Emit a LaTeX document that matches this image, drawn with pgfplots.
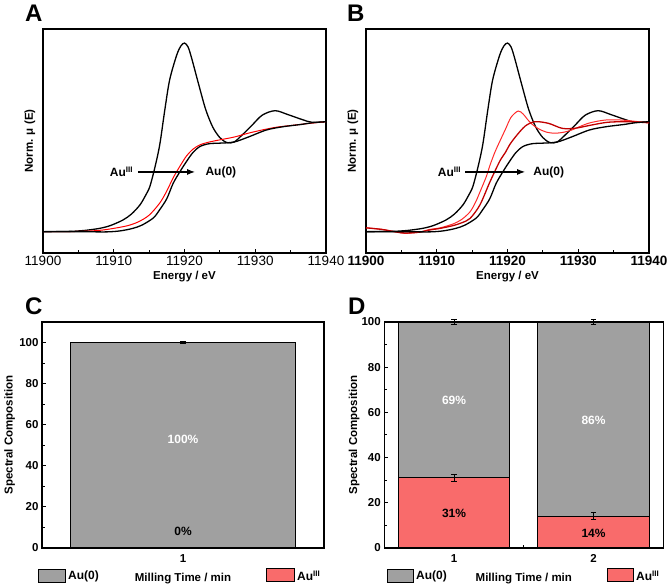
\documentclass[border=0pt]{standalone}
\usepackage{fontspec}
\setmainfont{Liberation Sans}
\usepackage{pgfplots}
\usepackage{pgfplotstable}
\pgfplotsset{compat=1.18}
\usetikzlibrary{arrows.meta}
\definecolor{barGray}{HTML}{A0A0A0}
\definecolor{barRed}{HTML}{F96B6B}
\definecolor{darkRed}{HTML}{C00000}
\definecolor{brightRed}{HTML}{FF2A2A}
\newcommand\fs[1]{\fontsize{#1}{#1}\selectfont}

% Au(III) reference
\pgfplotstableread{
E mu
11900 0
11902 0.001
11904 0.003
11906 0.012
11908 0.03
11909.5 0.055
11911.3 0.106
11912.5 0.16
11913.7 0.243
11914.5 0.33
11915.1 0.41
11915.8 0.58
11916.5 0.79
11917.2 1.10
11917.9 1.38
11918.9 1.606
11919.5 1.69
11920 1.715
11920.5 1.68
11921 1.58
11922 1.34
11923 1.11
11924 0.95
11925 0.855
11926 0.81
11927 0.815
11928 0.87
11929.5 0.965
11931 1.06
11932.8 1.10
11934.6 1.065
11936.6 1.02
11938 0.995
11940 1.0
}\refAuIII

% Au(0) foil
\pgfplotstableread{
E mu
11900 0
11905 0
11909 -0.002
11911 0.008
11912.7 0.03
11914 0.06
11915.6 0.125
11916.5 0.2
11917.5 0.3
11918.4 0.44
11919.4 0.55
11920.3 0.64
11921.2 0.72
11922.2 0.775
11923.5 0.80
11925 0.805
11927 0.815
11929 0.86
11931.6 0.925
11934 0.955
11936.5 0.975
11938 0.99
11940 1.0
}\foil

% sample, panel A
\pgfplotstableread{
E mu
11900 0
11905 0.002
11908 0.012
11910 0.03
11912 0.055
11913.5 0.09
11915 0.15
11916.5 0.26
11917.5 0.37
11918.4 0.49
11919.4 0.6
11920.3 0.69
11921.2 0.75
11922.2 0.79
11923.5 0.815
11925 0.835
11927 0.86
11929 0.895
11931 0.925
11933 0.95
11935 0.965
11937 0.98
11940 1.0
}\sampleA

% sample 1 min, panel B
\pgfplotstableread{
E mu
11900 0.035
11902.3 0.02
11904 0.0
11905.5 -0.015
11907.5 -0.005
11909 0.02
11910.5 0.035
11912.3 0.07
11913.5 0.11
11914.7 0.18
11915.5 0.27
11916.1 0.36
11917 0.5
11917.5 0.6
11918.2 0.72
11918.9 0.82
11919.7 0.93
11920.5 1.04
11921.5 1.097
11922.2 1.07
11922.9 1.015
11923.6 0.97
11924.4 0.935
11925.5 0.905
11926.7 0.895
11928 0.905
11929.1 0.925
11931.4 0.985
11933.8 1.015
11936.1 1.015
11938.5 1.0
11940 0.99
}\sampleBone

% sample 2 min, panel B
\pgfplotstableread{
E mu
11900 0.035
11902.3 0.02
11904 0.0
11905.5 -0.012
11907.5 -0.005
11909 0.015
11910.5 0.03
11912.3 0.055
11913.5 0.08
11914.7 0.12
11916.1 0.243
11917.5 0.45
11918.9 0.64
11919.7 0.72
11920.3 0.79
11921.1 0.86
11922.5 0.96
11923.9 1.0
11925.8 0.985
11927.7 0.94
11929.5 0.94
11931.9 0.97
11934.2 0.995
11937 1.0
11940 0.99
}\sampleBtwo

\begin{document}
\begin{tikzpicture}
\useasboundingbox (0pt,0pt) rectangle (671pt,588pt);
\pgfplotsset{
  xanes/.style={
    anchor=south west, scale only axis, width=283pt, height=224pt,
    xmin=11900, xmax=11940, ymin=-0.194, ymax=1.843,
    xtick={11900,11910,11920,11930,11940},
    minor xtick={11905,11915,11925,11935},
    scaled x ticks=false,
    ytick=\empty, xtick pos=left, tick align=inside,
    major tick length=4pt, minor tick length=2.5pt,
    axis line style={line width=1.2pt}, tick style={black, line width=1pt},
    /pgf/number format/1000 sep={},
    /pgf/number format/assume math mode=true,
    xlabel={Energy / eV}, ylabel={Norm. μ (E)},
    label style={font=\bfseries\fs{11.5}},
    xlabel style={at={(axis description cs:0.5,-0.103)}, anchor=center},
    ylabel style={at={(axis description cs:-0.046,0.5)}, anchor=center},
    clip=false,
  },
  bars/.style={
    anchor=south west, scale only axis, height=226pt, ymin=0,
    ytick={0,20,40,60,80,100}, minor ytick={10,30,50,70,90},
    tick align=inside, xtick pos=left, ytick pos=left,
    major tick length=4pt, minor tick length=2.5pt,
    axis line style={line width=1.2pt}, tick style={black, line width=1pt},
    ticklabel style={font=\bfseries\fs{11.5}},
    xticklabel style={yshift=-3pt},
    /pgf/number format/assume math mode=true,
    xlabel={Milling Time / min}, ylabel={Spectral Composition},
    label style={font=\bfseries\fs{11.5}},
    xlabel style={at={(axis description cs:0.5,-0.134)}, anchor=center},
    clip=false,
  },
  errstyle/.style={error bars/.cd, y dir=both, y explicit,
    error bar style={line width=1pt, black},
    error mark options={rotate=90, black, line width=1pt, mark size=2.7pt}},
}

% ---------- A ----------
\begin{axis}[xanes, at={(43pt,335pt)}, xticklabel style={font=\fs{13.5}}]
\addplot[black, line width=1.3pt, smooth] table[x=E,y=mu] {\refAuIII};
\addplot[red, line width=1.0pt, smooth] table[x=E,y=mu] {\sampleA};
\addplot[black, line width=1.3pt, smooth] table[x=E,y=mu] {\foil};
\draw[line width=1.2pt, -{Latex[length=8pt,width=6pt]}] (axis cs:11913.4,0.543) -- (axis cs:11921.5,0.543);
\node[anchor=east, font=\bfseries\fs{12}, inner sep=1pt] at (axis cs:11912.9,0.543) {Au\textsuperscript{III}};
\node[anchor=west, font=\bfseries\fs{12}, inner sep=1pt] at (axis cs:11922.8,0.543) {Au(0)};
\end{axis}

% ---------- B ----------
\begin{axis}[xanes, at={(366pt,335pt)}, xticklabel style={font=\bfseries\fs{13.5}}]
\addplot[black, line width=1.3pt, smooth] table[x=E,y=mu] {\refAuIII};
\addplot[brightRed, line width=1.0pt, smooth] table[x=E,y=mu] {\sampleBone};
\addplot[darkRed, line width=1.3pt, smooth] table[x=E,y=mu] {\sampleBtwo};
\addplot[black, line width=1.3pt, smooth] table[x=E,y=mu] {\foil};
\draw[line width=1.2pt, -{Latex[length=8pt,width=6pt]}] (axis cs:11914.0,0.543) -- (axis cs:11922.5,0.543);
\node[anchor=east, font=\bfseries\fs{12}, inner sep=1pt] at (axis cs:11913.6,0.543) {Au\textsuperscript{III}};
\node[anchor=west, font=\bfseries\fs{12}, inner sep=1pt] at (axis cs:11923.5,0.543) {Au(0)};
\end{axis}

% ---------- C ----------
\begin{axis}[bars, at={(42pt,40pt)}, width=282pt, xmin=0.5, xmax=1.5, ymax=110,
  xtick={1}, ylabel style={at={(axis description cs:-0.115,0.5)}, anchor=center}]
\addplot[ybar, bar width=0.8, bar shift=0pt, fill=barGray, draw=black, line width=1.1pt, errstyle]
  coordinates {(1,100) +- (0,0.4)};
\addplot[ybar, bar width=0.8, bar shift=0pt, fill=barRed, draw=black, line width=1.1pt, errstyle]
  coordinates {(1,0) +- (0,0.4)};
\node[font=\bfseries\fs{12}, text=white] at (axis cs:1,52.9) {100\%};
\node[font=\bfseries\fs{12}] at (axis cs:1,8.1) {0\%};
\end{axis}

% ---------- D ----------
\begin{axis}[bars, at={(384.3pt,40pt)}, width=279pt, xmin=0.5, xmax=2.5, ymax=100,
  xtick={1,2}, minor xtick={1.5}, ylabel style={at={(axis description cs:-0.108,0.5)}, anchor=center}]
\addplot[ybar, bar width=0.8, bar shift=0pt, fill=barGray, draw=black, line width=1.1pt, errstyle]
  coordinates {(1,100) +- (0,1.3) (2,100) +- (0,1.2)};
\addplot[ybar, bar width=0.8, bar shift=0pt, fill=barRed, draw=black, line width=1.1pt, errstyle]
  coordinates {(1,31) +- (0,1.6) (2,14) +- (0,1.5)};
\node[font=\bfseries\fs{12}, text=white] at (axis cs:1,65.2) {69\%};
\node[font=\bfseries\fs{12}, text=white] at (axis cs:2,56.5) {86\%};
\node[font=\bfseries\fs{12}] at (axis cs:1,15.2) {31\%};
\node[font=\bfseries\fs{12}] at (axis cs:2,6.3) {14\%};
\end{axis}

% ---------- legends ----------
\filldraw[fill=barGray, draw=black, line width=1pt] (38.3pt,5.5pt) rectangle (65.7pt,18pt);
\node[anchor=west, font=\bfseries\fs{12}, inner sep=1pt] at (67pt,12pt) {Au(0)};
\filldraw[fill=barRed, draw=black, line width=1pt] (266.7pt,6.5pt) rectangle (294pt,19pt);
\node[anchor=base west, font=\bfseries\fs{12}, inner sep=1pt] at (296pt,7pt) {Au\textsuperscript{III}};

\filldraw[fill=barGray, draw=black, line width=1pt] (387pt,5.5pt) rectangle (413pt,18pt);
\node[anchor=west, font=\bfseries\fs{12}, inner sep=1pt] at (415pt,12pt) {Au(0)};
\filldraw[fill=barRed, draw=black, line width=1pt] (607pt,6.5pt) rectangle (633pt,19pt);
\node[anchor=base west, font=\bfseries\fs{12}, inner sep=1pt] at (635pt,7pt) {Au\textsuperscript{III}};

% ---------- panel letters ----------
\node[anchor=base west, font=\bfseries\fs{24}, inner sep=0pt] at (25pt,566pt) {A};
\node[anchor=base west, font=\bfseries\fs{24}, inner sep=0pt] at (347pt,566pt) {B};
\node[anchor=base west, font=\bfseries\fs{24}, inner sep=0pt] at (25pt,273pt) {C};
\node[anchor=base west, font=\bfseries\fs{24}, inner sep=0pt] at (348pt,273pt) {D};
\end{tikzpicture}
\end{document}
